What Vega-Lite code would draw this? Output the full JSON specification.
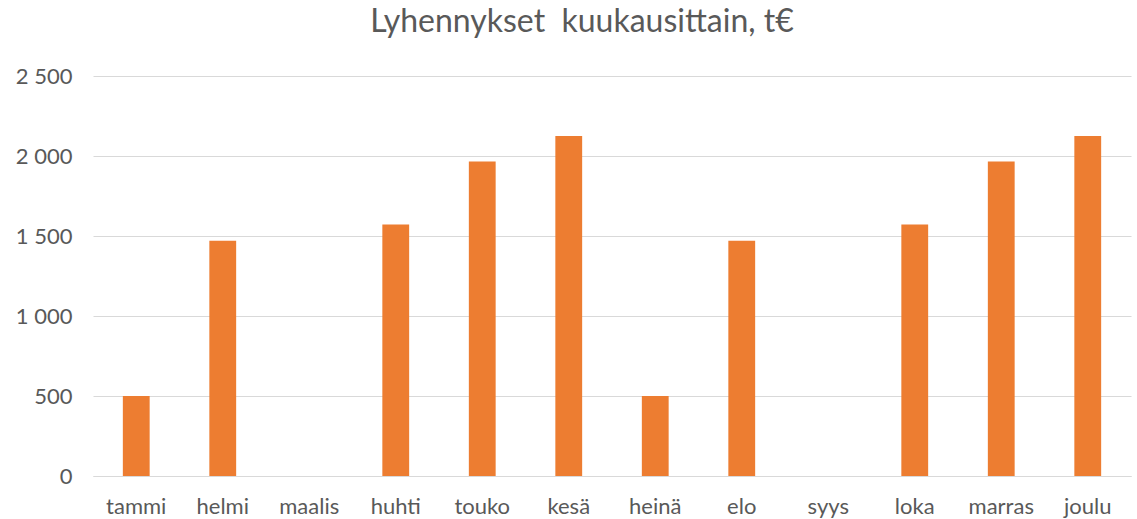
{
  "$schema": "https://vega.github.io/schema/vega-lite/v6.json",
  "width": 1038,
  "height": 400,
  "autosize": "none",
  "padding": {"left": 93, "top": 76, "right": 6, "bottom": 43},
  "background": "white",
  "title": {
    "text": "Lyhennykset \u00a0kuukausittain, t€",
    "anchor": "middle",
    "font": "Lato",
    "fontSize": 32,
    "fontWeight": "normal",
    "color": "#595959",
    "offset": 26,
    "dx": -30
  },
  "config": {
    "view": {"stroke": null},
    "axis": {"labelFont": "Lato", "labelFontSize": 22, "labelColor": "#595959"}
  },
  "data": {
    "values": [
      {"month": "tammi", "value": 500},
      {"month": "helmi", "value": 1470},
      {"month": "maalis", "value": 0},
      {"month": "huhti", "value": 1572},
      {"month": "touko", "value": 1965},
      {"month": "kesä", "value": 2125},
      {"month": "heinä", "value": 500},
      {"month": "elo", "value": 1470},
      {"month": "syys", "value": 0},
      {"month": "loka", "value": 1572},
      {"month": "marras", "value": 1965},
      {"month": "joulu", "value": 2125}
    ]
  },
  "mark": {"type": "bar", "color": "#ED7D31"},
  "encoding": {
    "x": {
      "field": "month",
      "type": "nominal",
      "sort": null,
      "scale": {"paddingInner": 0.69, "paddingOuter": 0.345},
      "axis": {
        "title": null,
        "labelAngle": 0,
        "ticks": false,
        "domain": true,
        "domainColor": "#d9d9d9",
        "labelPadding": 20
      }
    },
    "y": {
      "field": "value",
      "type": "quantitative",
      "scale": {"domain": [0, 2500], "nice": false},
      "axis": {
        "title": null,
        "values": [0, 500, 1000, 1500, 2000, 2500],
        "labelExpr": "replace(format(datum.value, ','), ',', ' ')",
        "ticks": false,
        "domain": false,
        "gridColor": "#d9d9d9",
        "labelPadding": 21
      }
    }
  }
}
